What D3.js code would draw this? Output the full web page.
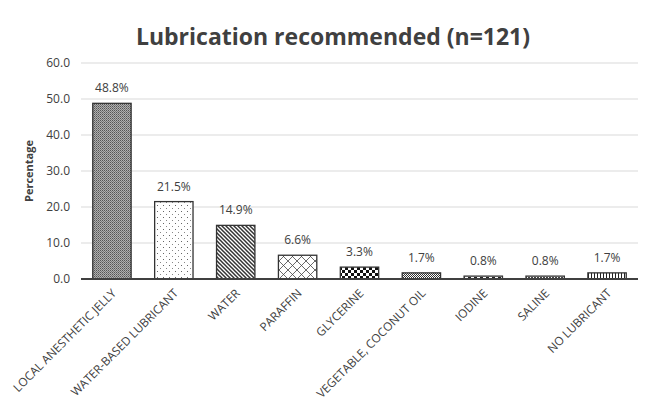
<!DOCTYPE html>
<html>
<head>
<meta charset="utf-8" />
<script src="https://cdn.jsdelivr.net/npm/d3@7"></script>
<style>
  body { margin: 0; background: #fff; }
  text { font-family: "Open Sans", "Noto Sans", sans-serif; fill: #404040; }
</style>
</head>
<body>
<div id="chart"></div>
<script>
var categories = ["LOCAL ANESTHETIC JELLY", "WATER-BASED LUBRICANT", "WATER", "PARAFFIN", "GLYCERINE",
    "VEGETABLE, COCONUT OIL", "IODINE", "SALINE", "NO LUBRICANT"];
var values = [48.8, 21.5, 14.9, 6.6, 3.3, 1.7, 0.8, 0.8, 1.7];
var yTicks = [0, 10, 20, 30, 40, 50, 60];

var width = 649, height = 402;
var margin = { top: 63, right: 11, bottom: 123, left: 81 };

var svg = d3.select("#chart").append("svg")
    .attr("width", width)
    .attr("height", height);

// patterns
var defs = svg.append("defs");
function pat(id, w, h, draw, bg) {
    var p = defs.append("pattern").attr("id", id)
        .attr("patternUnits", "userSpaceOnUse")
        .attr("width", w).attr("height", h);
    p.append("rect").attr("width", w).attr("height", h).attr("fill", bg || "#fff");
    draw(p);
}
pat("p0", 2, 2, function (p) {
    p.append("rect").attr("width", 1).attr("height", 1).attr("fill", "#555");
    p.append("rect").attr("x", 1).attr("y", 1).attr("width", 1).attr("height", 1).attr("fill", "#777");
}, "#b0b0b0");
pat("p1", 6, 6, function (p) {
    p.append("rect").attr("x", 1).attr("y", 1).attr("width", 1).attr("height", 1).attr("fill", "#666");
    p.append("rect").attr("x", 4).attr("y", 4).attr("width", 1).attr("height", 1).attr("fill", "#888");
});
pat("p2", 4, 4, function (p) {
    p.append("path").attr("d", "M-1,-1L5,5M-1,3L1,5M3,-1L5,1").attr("stroke", "#333").attr("stroke-width", 1.5);
});
pat("p3", 9, 9, function (p) {
    p.append("path").attr("d", "M0,0L9,9M9,0L0,9").attr("stroke", "#444").attr("stroke-width", 0.8);
});
pat("p4", 6, 6, function (p) {
    p.append("rect").attr("width", 3).attr("height", 3).attr("fill", "#111");
    p.append("rect").attr("x", 3).attr("y", 3).attr("width", 3).attr("height", 3).attr("fill", "#111");
});
pat("p5", 2, 2, function (p) {
    p.append("rect").attr("width", 1).attr("height", 1).attr("fill", "#333");
    p.append("rect").attr("x", 1).attr("y", 1).attr("width", 1).attr("height", 1).attr("fill", "#333");
});
pat("p6", 6, 3, function (p) {
    p.append("rect").attr("y", 1).attr("width", 3).attr("height", 1).attr("fill", "#222");
});
pat("p7", 3, 3, function (p) {
    p.append("rect").attr("y", 1).attr("width", 2).attr("height", 1).attr("fill", "#444");
});
pat("p8", 3, 3, function (p) {
    p.append("rect").attr("width", 1).attr("height", 3).attr("fill", "#222");
});

var x = d3.scaleBand()
    .domain(categories)
    .range([margin.left, width - margin.right])
    .paddingInner(0.38)
    .paddingOuter(0.19);

var y = d3.scaleLinear()
    .domain([0, 60])
    .range([height - margin.bottom, margin.top]);

// gridlines
svg.append("g").selectAll("line")
    .data(yTicks.slice(1))
    .enter().append("line")
    .attr("x1", margin.left).attr("x2", width - margin.right)
    .attr("y1", function (d) { return y(d); })
    .attr("y2", function (d) { return y(d); })
    .attr("stroke", "#d9d9d9").attr("stroke-width", 1);

// y tick labels
svg.append("g").selectAll("text")
    .data(yTicks)
    .enter().append("text")
    .attr("x", margin.left - 11)
    .attr("y", function (d) { return y(d); })
    .attr("dy", "0.35em")
    .attr("text-anchor", "end")
    .attr("font-size", "12px")
    .text(function (d) { return d.toFixed(1); });

// bars
svg.append("g").selectAll("rect")
    .data(values)
    .enter().append("rect")
    .attr("x", function (d, i) { return x(categories[i]); })
    .attr("y", function (d) { return y(d); })
    .attr("width", x.bandwidth())
    .attr("height", function (d) { return y(0) - y(d); })
    .attr("fill", function (d, i) { return "url(#p" + i + ")"; })
    .attr("stroke", "#333")
    .attr("stroke-width", 1.3);

// value labels
svg.append("g").selectAll("text")
    .data(values)
    .enter().append("text")
    .attr("x", function (d, i) { return x(categories[i]) + x.bandwidth() / 2; })
    .attr("y", function (d) { return y(d) - 11; })
    .attr("text-anchor", "middle")
    .attr("font-size", "12px")
    .text(function (d) { return d.toFixed(1) + "%"; });

// x axis line
svg.append("line")
    .attr("x1", margin.left).attr("x2", width - margin.right)
    .attr("y1", y(0)).attr("y2", y(0))
    .attr("stroke", "#404040").attr("stroke-width", 2);

// x labels
svg.append("g").selectAll("text")
    .data(categories)
    .enter().append("text")
    .attr("transform", function (d) {
        return "translate(" + (x(d) + x.bandwidth() / 2 + 5) + "," + (y(0) + 15) + ") rotate(-45)";
    })
    .attr("text-anchor", "end")
    .attr("font-size", "11.8px")
    .text(function (d) { return d; });

// y axis title
svg.append("text")
    .attr("transform", "translate(33," + ((margin.top + y(0)) / 2) + ") rotate(-90)")
    .attr("text-anchor", "middle")
    .attr("font-size", "11px")
    .attr("font-weight", "bold")
    .text("Percentage");

// title
svg.append("text")
    .attr("x", 333).attr("y", 45)
    .attr("text-anchor", "middle")
    .attr("font-size", "23px")
    .attr("font-weight", "bold")
    .text("Lubrication recommended (n=121)");
</script>
</body>
</html>
